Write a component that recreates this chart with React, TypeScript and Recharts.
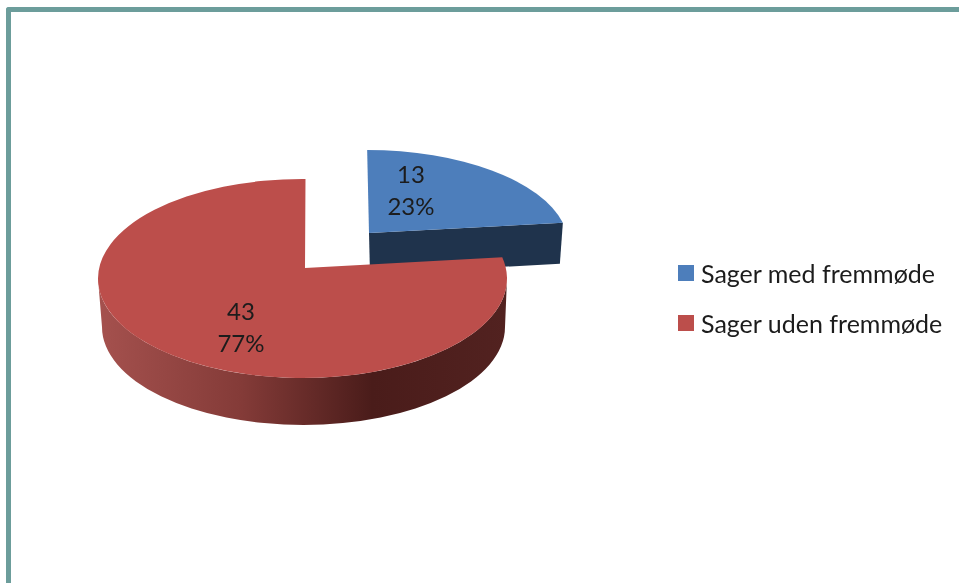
import React from 'react';
import { PieChart, Pie, Legend } from 'recharts';

const categories = ['Sager med fremmøde', 'Sager uden fremmøde'];
const values = [13, 43];
const colors = ['#4d7ebb', '#bc4e4b'];

const W = 959;
const H = 583;
const FONT = 'Lato, "Noto Sans", sans-serif';
const TEXT = '#1c1c1c';
const data = categories.map((name, i) => ({ name, value: values[i], fill: colors[i] }));

// view of the tilted disc: ellipse radii and centre relative to the pie apex
const look = [
  { dx: 64, dy: -35, rx: 202, ry: 95, ex: -2.5, ey: 12, lean: -2 },
  { dx: 0, dy: 0, rx: 204.5, ry: 99.5, ex: -2.5, ey: 10.5, lean: 0.5 },
];
const labelAt = [
  { x: 106, y: -85 },
  { x: -64, y: 52 },
];
const LINE = 32;

function rimPoint(ax: number, ay: number, v: any, deg: number) {
  // ray from the apex, in the projected direction of the disc angle, onto the ellipse
  const a = (deg * Math.PI) / 180;
  const ux = Math.sin(a) * v.rx + (Math.cos(a) * v.lean * v.ry) / 90;
  const uy = -Math.cos(a) * v.ry;
  const ox = -v.ex;
  const oy = -v.ey;
  const A = (ux * ux) / (v.rx * v.rx) + (uy * uy) / (v.ry * v.ry);
  const B = 2 * ((ox * ux) / (v.rx * v.rx) + (oy * uy) / (v.ry * v.ry));
  const C = (ox * ox) / (v.rx * v.rx) + (oy * oy) / (v.ry * v.ry) - 1;
  const t = (-B + Math.sqrt(B * B - 4 * A * C)) / (2 * A);
  return { x: ax + ux * t, y: ay + uy * t };
}

function Disc(props: any) {
  const { cx, cy, startAngle, endAngle, fill, index, payload } = props;
  const idx = index ?? categories.indexOf(payload?.name ?? props.name);
  const v = look[idx];
  const ax = cx + v.dx;
  const ay = cy + v.dy;
  const from = 90 - startAngle;
  const to = 90 - endAngle;
  const p0 = rimPoint(ax, ay, v, from);
  const p1 = rimPoint(ax, ay, v, to);
  const large = to - from > 180 ? 1 : 0;
  const face = `M${ax},${ay} L${p0.x},${p0.y} A${v.rx},${v.ry} 0 ${large} 1 ${p1.x},${p1.y} Z`;
  if (idx === 0) {
    const wall = `M${ax},${ay} L${p1.x},${p1.y} L${p1.x - 3},${p1.y + 41} L${ax + 1},${ay + 41} Z`;
    return (
      <g>
        <path d={wall} fill="#1f334c" />
        <path d={face} fill={fill} />
      </g>
    );
  }
  const ex = ax + v.ex;
  const ey = ay + v.ey;
  const bx = ex + 1;
  const by = ey + 48.5;
  const brx = 201.5;
  const bry = 98;
  const side = `M${ex - v.rx},${ey} A${v.rx},${v.ry} 0 0 0 ${ex + v.rx},${ey} L${bx + brx},${by} A${brx},${bry} 0 0 1 ${bx - brx},${by} Z`;
  return (
    <g>
      <defs>
        <linearGradient id="redSide" gradientUnits="userSpaceOnUse" x1={ex - v.rx} y1="0" x2={ex + v.rx} y2="0">
          <stop offset="0" stopColor="#a5514e" />
          <stop offset="0.35" stopColor="#843b38" />
          <stop offset="0.67" stopColor="#4a1c1a" />
          <stop offset="1" stopColor="#522220" />
        </linearGradient>
      </defs>
      <path d={side} fill="url(#redSide)" />
      <path d={face} fill={fill} />
    </g>
  );
}

function SliceLabel(props: any) {
  const { cx, cy, value, percent, index } = props;
  const at = labelAt[index];
  const x = cx + at.x;
  const y = cy + at.y;
  return (
    <text x={x} y={y} textAnchor="middle" fontFamily={FONT} fontSize={24} fill={TEXT}>
      <tspan x={x} y={y}>{value}</tspan>
      <tspan x={x} y={y + LINE}>{`${Math.round(percent * 100)}%`}</tspan>
    </text>
  );
}

function LegendList({ payload }: any) {
  return (
    <div>
      {(payload || []).map((p: any) => (
        <div key={p.value} style={{ display: 'flex', alignItems: 'center', height: 50, fontFamily: FONT, fontSize: 25, color: TEXT, whiteSpace: 'nowrap' }}>
          <span style={{ display: 'inline-block', width: 16, height: 16, background: p.color, marginRight: 7 }} />
          <span>{p.value}</span>
        </div>
      ))}
    </div>
  );
}

export default function App() {
  return (
    <div style={{ position: 'absolute', left: 0, top: 0, width: W, height: H, background: '#fff', overflow: 'hidden', filter: 'blur(0.45px)' }}>
      <div style={{ position: 'absolute', left: 6, top: 7, right: -10, bottom: -10, borderLeft: '5px solid #6c9d9b', borderTop: '5px solid #6c9d9b', borderTopLeftRadius: 3 }} />
      <PieChart width={W} height={H} margin={{ top: 0, right: 0, bottom: 0, left: 0 }} style={{ position: 'absolute', left: 0, top: 0 }}>
        <Pie
          data={data}
          dataKey="value"
          nameKey="name"
          cx={305}
          cy={268}
          outerRadius={205}
          startAngle={90}
          endAngle={-270}
          stroke="none"
          isAnimationActive={false}
          shape={Disc}
          label={SliceLabel}
          labelLine={false}
        />
        <Legend
          layout="vertical"
          content={LegendList}
          wrapperStyle={{ position: 'absolute', left: 678, top: 248, width: 281, bottom: 'auto', right: 'auto' }}
        />
      </PieChart>
    </div>
  );
}
